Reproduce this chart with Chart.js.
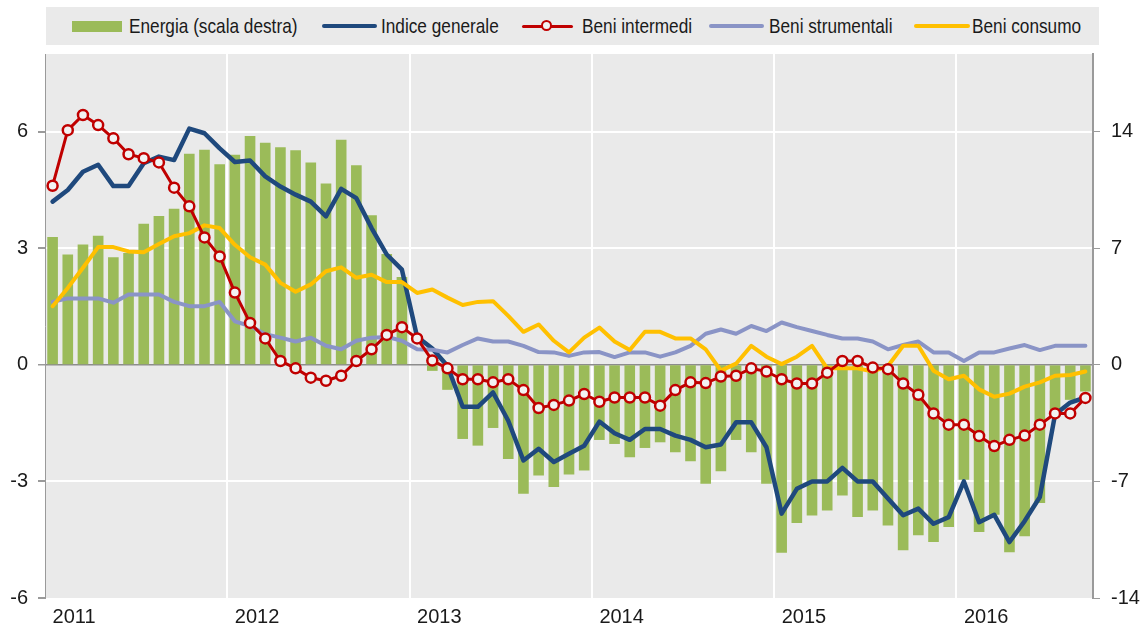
<!DOCTYPE html>
<html>
<head>
<meta charset="utf-8">
<script src="https://cdn.jsdelivr.net/npm/chart.js@4/dist/chart.umd.min.js"></script>
<style>
  body { margin: 0; background: #fff; }
  #box { position: relative; width: 1142px; height: 630px; }
  #legenda {
    position: absolute; left: 46px; top: 7px; width: 1053px; height: 38px;
    background: #eaeaea;
    font-family: 'Liberation Sans Narrow', 'Arial Narrow', 'Liberation Sans', sans-serif;
    font-size: 21px; color: #1a1a1a;
  }
  .voce {
    position: absolute; top: 0; height: 38px; line-height: 38px; white-space: nowrap;
    transform: scaleX(0.82); transform-origin: left center;
  }
  .seg { position: absolute; height: 4px; top: 17px; border-radius: 2px; }
  .ret { position: absolute; height: 11px; top: 14px; }
  .pal { position: absolute; width: 7px; height: 7px; top: 13px; border: 2.5px solid #c00000; border-radius: 50%; background: #f2f2f2; }
</style>
</head>
<body>
<div id="box">
  <canvas id="chart" width="1142" height="630"></canvas>
  <div id="legenda">
    <div class="ret" style="left:26px;width:50px;background:#9bbb59"></div>
    <div class="voce" style="left:83px">Energia (scala destra)</div>
    <div class="seg" style="left:276px;width:55px;background:#1f497d"></div>
    <div class="voce" style="left:335px">Indice generale</div>
    <div class="seg" style="left:476px;width:51px;height:3px;top:18px;background:#c00000"></div>
    <div class="pal" style="left:495px"></div>
    <div class="voce" style="left:536px">Beni intermedi</div>
    <div class="seg" style="left:663px;width:55px;background:#8a94c6"></div>
    <div class="voce" style="left:723px">Beni strumentali</div>
    <div class="seg" style="left:868px;width:56px;background:#ffc000"></div>
    <div class="voce" style="left:926px">Beni consumo</div>
  </div>
</div>
<script>
// anni e mesi (gen 2011 - set 2016)
var anni = [2011, 2012, 2013, 2014, 2015, 2016]
var nMesi = 69

// variazioni tendenziali, scala sinistra
var indiceGenerale = [4.2, 4.5, 4.97, 5.15, 4.6, 4.6, 5.19, 5.36, 5.27, 6.08, 5.96, 5.57,
  5.22, 5.26, 4.85, 4.59, 4.38, 4.2, 3.82, 4.53, 4.29, 3.52, 2.84, 2.45,
  0.72, 0.42, -0.03, -1.08, -1.08, -0.71, -1.44, -2.46, -2.16, -2.5, -2.29, -2.08,
  -1.46, -1.76, -1.93, -1.65, -1.65, -1.82, -1.93, -2.12, -2.05, -1.48, -1.48, -2.12,
  -3.83, -3.19, -3.0, -3.0, -2.65, -3.0, -3.0, -3.44, -3.87, -3.7, -4.09, -3.92,
  -3.0, -4.05, -3.86, -4.56, -4.02, -3.4, -1.28, -0.97, -0.84]
var beniIntermedi = [4.61, 6.04, 6.43, 6.17, 5.83, 5.42, 5.32, 5.21, 4.56, 4.08, 3.28, 2.79,
  1.86, 1.08, 0.68, 0.1, -0.09, -0.33, -0.41, -0.28, 0.1, 0.4, 0.77, 0.97,
  0.68, 0.11, -0.09, -0.37, -0.37, -0.45, -0.37, -0.65, -1.11, -1.03, -0.92, -0.75,
  -0.95, -0.84, -0.84, -0.84, -1.05, -0.65, -0.45, -0.47, -0.3, -0.28, -0.09, -0.17,
  -0.37, -0.48, -0.48, -0.2, 0.1, 0.1, -0.07, -0.11, -0.48, -0.77, -1.25, -1.54,
  -1.54, -1.83, -2.09, -1.93, -1.82, -1.54, -1.25, -1.25, -0.85]
var beniStrumentali = [1.62, 1.71, 1.71, 1.71, 1.6, 1.81, 1.81, 1.81, 1.62, 1.51, 1.51, 1.62,
  1.12, 1.0, 0.79, 0.7, 0.6, 0.7, 0.49, 0.4, 0.62, 0.7, 0.72, 0.62,
  0.4, 0.39, 0.32, 0.51, 0.68, 0.6, 0.6, 0.49, 0.33, 0.32, 0.23, 0.32,
  0.33, 0.2, 0.32, 0.32, 0.21, 0.32, 0.49, 0.8, 0.91, 0.8, 1.0, 0.87,
  1.09, 0.97, 0.87, 0.77, 0.68, 0.68, 0.6, 0.4, 0.51, 0.6, 0.32, 0.32,
  0.1, 0.32, 0.32, 0.42, 0.51, 0.38, 0.49, 0.49, 0.49]
var beniConsumo = [1.51, 1.98, 2.5, 3.03, 3.03, 2.92, 2.9, 3.11, 3.31, 3.39, 3.59, 3.52,
  3.09, 2.77, 2.58, 2.11, 1.88, 2.07, 2.41, 2.51, 2.24, 2.32, 2.13, 2.13,
  1.85, 1.94, 1.73, 1.54, 1.62, 1.64, 1.26, 0.85, 1.04, 0.62, 0.32, 0.7,
  0.96, 0.6, 0.38, 0.85, 0.85, 0.68, 0.68, 0.4, -0.15, 0.03, 0.49, 0.21,
  0.02, 0.21, 0.49, -0.09, -0.09, -0.09, -0.17, -0.03, 0.49, 0.49, -0.15, -0.37,
  -0.28, -0.63, -0.82, -0.74, -0.56, -0.45, -0.28, -0.26, -0.17]
// energia, scala destra
var energia = [7.68, 6.62, 7.22, 7.76, 6.46, 6.72, 8.48, 8.94, 9.38, 12.67, 12.91, 12.05,
  12.62, 13.75, 13.33, 13.06, 12.88, 12.15, 10.89, 13.52, 11.99, 8.98, 6.66, 5.27,
  0, -0.36, -1.5, -4.45, -4.85, -3.79, -5.65, -7.74, -6.64, -7.34, -6.58, -6.34,
  -4.51, -4.75, -5.55, -4.99, -4.65, -5.25, -5.79, -7.14, -6.39, -4.51, -5.25, -7.14,
  -11.29, -9.5, -9.04, -8.74, -7.84, -9.14, -8.74, -9.64, -11.13, -10.23, -10.63, -9.74,
  -6.9, -10.03, -9.0, -11.25, -10.29, -8.3, -2.7, -2.1, -1.6]

var etichette = []
for (var i = 0; i < nMesi; i++) {
  etichette.push(anni[0] + Math.floor(i / 12) + '-' + (i % 12 + 1))
}

var sfondo = {
  id: 'sfondo',
  beforeDraw: function (chart) {
    var a = chart.chartArea
    var ctx = chart.ctx
    ctx.save()
    ctx.fillStyle = '#eaeaea'
    ctx.fillRect(a.left, a.top, a.right - a.left, a.bottom - a.top)
    ctx.restore()
  }
}

Chart.defaults.font.family = "'Liberation Sans Narrow', 'Arial Narrow', sans-serif"
Chart.defaults.font.size = 20
Chart.defaults.color = '#1a1a1a'

function linea (nome, dati, colore, spessore, ordine) {
  return {
    type: 'line',
    label: nome,
    data: dati,
    yAxisID: 'y',
    borderColor: colore,
    borderWidth: spessore,
    pointRadius: 0,
    tension: 0,
    fill: false,
    borderJoinStyle: 'round',
    borderCapStyle: 'round',
    order: ordine
  }
}

var intermedi = linea('Beni intermedi', beniIntermedi, '#c00000', 3, 1)
intermedi.pointRadius = 5
intermedi.pointBorderWidth = 2.5
intermedi.pointBackgroundColor = '#f2f2f2'
intermedi.pointBorderColor = '#c00000'

new Chart(document.getElementById('chart'), {
  data: {
    labels: etichette,
    datasets: [
      {
        type: 'bar',
        label: 'Energia (scala destra)',
        data: energia,
        yAxisID: 'y2',
        backgroundColor: '#9bbb59',
        barPercentage: 0.7,
        categoryPercentage: 1,
        order: 10
      },
      linea('Indice generale', indiceGenerale, '#1f497d', 4.5, 4),
      intermedi,
      linea('Beni strumentali', beniStrumentali, '#8a94c6', 4, 3),
      linea('Beni consumo', beniConsumo, '#ffc000', 4, 2)
    ]
  },
  options: {
    responsive: false,
    animation: false,
    events: [],
    layout: { padding: { top: 54, left: 0, right: 0, bottom: 0 } },
    plugins: { legend: { display: false }, tooltip: { enabled: false } },
    scales: {
      x: {
        offset: true,
        border: { display: false },
        grid: {
          offset: true,
          drawTicks: false,
          lineWidth: 2,
          color: function (c) {
            return c.index > 0 && c.index % 12 === 0 ? '#ffffff' : 'rgba(0,0,0,0)'
          }
        },
        ticks: {
          autoSkip: false,
          maxRotation: 0,
          align: 'start',
          padding: 7,
          callback: function (v, i) {
            return i % 12 === 0 ? String(anni[0] + i / 12) : ''
          }
        },
        afterFit: function (s) { s.height = 32 }
      },
      y: {
        position: 'left',
        min: -6,
        max: 8,
        border: { display: true, color: '#9a9a9a', width: 1 },
        grid: {
          tickLength: 7,
          tickColor: '#9a9a9a',
          lineWidth: function (c) { return c.tick && c.tick.value === 0 ? 1.5 : 2 },
          color: function (c) {
            if (!c.tick) return 'rgba(0,0,0,0)'
            if (c.tick.value === 0) return '#8c8c8c'
            if (c.tick.value === -6) return 'rgba(0,0,0,0)'
            return '#ffffff'
          }
        },
        ticks: { stepSize: 3, includeBounds: false, padding: 10 },
        afterFit: function (s) { s.width = 45 }
      },
      y2: {
        position: 'right',
        min: -14,
        max: 14 * 14 / 6 - 14,
        border: { display: true, color: '#9a9a9a', width: 2 },
        grid: { drawOnChartArea: false, tickLength: 7, color: '#9a9a9a' },
        ticks: { stepSize: 7, includeBounds: false, padding: 11 },
        afterFit: function (s) { s.width = 49 }
      }
    }
  },
  plugins: [sfondo]
})
</script>
</body>
</html>
